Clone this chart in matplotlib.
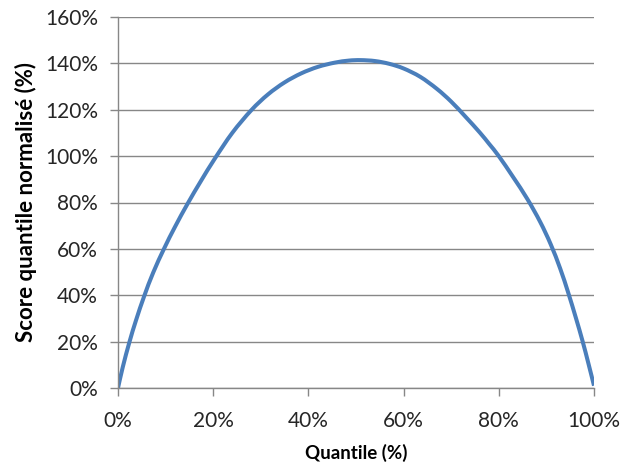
import matplotlib
matplotlib.use("Agg")
import matplotlib.pyplot as plt
import numpy as np
from matplotlib.path import Path
from matplotlib.patches import PathPatch
from matplotlib.ticker import FuncFormatter

quantile = [0, 1.0, 2.4, 3.8, 5.5, 7.4, 9.7, 12.0, 14.6, 17.4, 20.3, 24.0, 28.0,
            31.5, 35.0, 38.5, 42.0, 45.5, 48.5, 51.0, 54.0, 57.0, 60.0, 63.5,
            67.0, 70.0, 73.0, 76.0, 78.0, 80.0, 83.0, 86.0, 88.7, 90.9, 92.9,
            94.6, 96.2, 97.6, 98.8, 100]
score = [0, 9.0, 19.8, 29.3, 39.6, 49.8, 60.2, 69.6, 79.4, 89.2, 98.8, 110.0, 119.8,
         126.6, 131.8, 135.7, 138.5, 140.3, 141.2, 141.4, 141.0, 139.8, 137.8, 134.2,
         129.0, 123.5, 117.0, 110.2, 105.2, 100.0, 91.0, 81.5, 71.6, 62.0, 51.5,
         41.0, 30.2, 20.2, 10.8, 1.0]
x_ticks = [0, 20, 40, 60, 80, 100]
y_ticks = [0, 20, 40, 60, 80, 100, 120, 140, 160]
x_label = "Quantile (%)"
y_label = "Score quantile normalisé (%)"

plt.rcParams['font.family'] = ['Lato', 'DejaVu Sans']
fig = plt.figure(figsize=(6.2, 4.68), dpi=100)
ax = fig.add_axes([118/620, 1 - 388/468, (594-118)/620, (388-17)/468])

# smoothed line (like a spreadsheet "smoothed line") through the data points
pts = np.column_stack([quantile, score])
verts = [pts[0]]
codes = [Path.MOVETO]
n = len(pts)
for i in range(n - 1):
    p0 = pts[i - 1] if i > 0 else pts[i]
    p1, p2 = pts[i], pts[i + 1]
    p3 = pts[i + 2] if i + 2 < n else pts[i + 1]
    c1 = p1 + (p2 - p0) / 6.0
    c2 = p2 - (p3 - p1) / 6.0
    verts += [c1, c2, p2]
    codes += [Path.CURVE4] * 3
ax.add_patch(PathPatch(Path(verts, codes), facecolor='none', edgecolor='#4A7EBB',
                       lw=2.9, capstyle='butt', joinstyle='round'))

ax.set_xlim(0, 100)
ax.set_ylim(0, 160)
ax.set_xticks(x_ticks)
ax.set_yticks(y_ticks)
fmt = FuncFormatter(lambda v, p: f"{v:.0f}%")
ax.xaxis.set_major_formatter(fmt)
ax.yaxis.set_major_formatter(fmt)
ax.grid(axis='y', color='#878787', lw=1)
ax.set_axisbelow(True)
for s in ['top', 'right']:
    ax.spines[s].set_visible(False)
for s in ['left', 'bottom']:
    ax.spines[s].set_color('#878787')
    ax.spines[s].set_linewidth(1)
ax.tick_params(axis='both', colors='#878787', labelcolor='#262626',
               labelsize=15, length=5.5, width=1)
ax.tick_params(axis='x', pad=11)
ax.tick_params(axis='y', pad=9)
ax.set_xlabel(x_label, fontsize=13.5, fontweight='bold', labelpad=9,
              color='#000000')
ax.set_ylabel(y_label, fontsize=16, fontweight='bold', labelpad=6,
              color='#000000')
fig.savefig("out.png", dpi=100)
